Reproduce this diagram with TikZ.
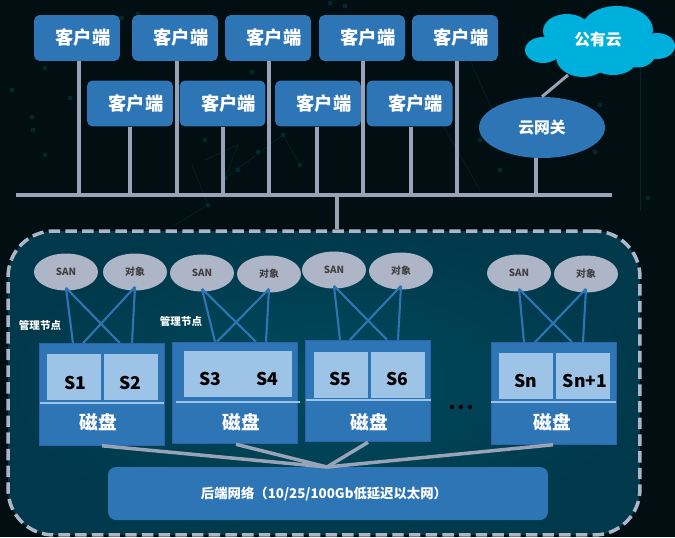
\documentclass[tikz,border=0pt]{standalone}
\usepackage{fontspec}
\setmainfont{Noto Sans CJK SC}
\usetikzlibrary{calc}
\usetikzlibrary{shapes.geometric}
\definecolor{pagedark}{HTML}{010F12}
\definecolor{panelin}{HTML}{004A5E}
\definecolor{panelout}{HTML}{00394B}
\definecolor{boxblue}{HTML}{2E75B6}
\definecolor{boxedge}{HTML}{2F62AC}
\definecolor{paleblue}{HTML}{9DC3E6}
\definecolor{greyline}{HTML}{98A3B7}
\definecolor{ovalgrey}{HTML}{ADB5C7}
\definecolor{cloudblue}{HTML}{00B0DC}
\definecolor{nettrace}{HTML}{05262A}
\tikzset{
  clientbox/.style={fill=boxblue, rounded corners=3.2pt, minimum width=1.72cm, minimum height=0.92cm, inner sep=0pt, text=white, font=\fontsize{10.4}{12}\selectfont\bfseries},
  oval/.style={ellipse, fill=ovalgrey, minimum width=1.28cm, minimum height=0.74cm, inner sep=0pt, text=black!75, font=\fontsize{5.6}{7}\selectfont\bfseries},
  diskbox/.style={fill=boxblue, draw=boxedge, line width=0.6pt, minimum width=2.5cm, minimum height=2.03cm, inner sep=0pt},
  slotbox/.style={fill=paleblue, minimum height=0.92cm, inner sep=0pt},
  slotlabel/.style={inner sep=0pt, text=black, font=\fontsize{10}{12}\selectfont\bfseries},
  disklabel/.style={inner sep=0pt, text=white, font=\fontsize{10.6}{12}\selectfont\bfseries},
  smalllabel/.style={inner sep=0pt, text=white, font=\fontsize{6}{7}\selectfont\bfseries},
  busline/.style={greyline, line width=2pt},
  linkline/.style={boxblue, line width=1.2pt},
}
\newcommand\clientnode[4]{
  \node[clientbox] (#1) at (#2,#3) {\hspace*{2.4mm}客户端};
  \coordinate (#1b) at (#4,195);
  \draw[busline] (#1b |- #1.south) -- (#1b);
}
\newcommand\disknode[4]{
  \node[diskbox] (disk#1) at (#2,#3) {};
  \node[disklabel] (disktext#1) at (#4,422) {磁盘};
}
\begin{document}
\begin{tikzpicture}[x=0.02cm,y=-0.02cm]
\useasboundingbox (0,0) rectangle (675,537);
\fill[pagedark] (0,0) rectangle (675,537);

% faint network behind everything
\foreach \a/\b in {33/130,45/68,70/98,32/117,12/90,45/155,138/14,122/18,208/205,225/178,238/170,258/152,283/135,300/165,205/140,252/72,330/3,345/6,600/105,595/152,648/198,500/170,480/140}
  \fill[nettrace] (\a,\b) circle (2.5);
\foreach \a/\b/\c/\d in {205/160/238/145,238/145/225/178,225/178/283/135,283/135/300/165,192/165/208/205,208/205/175/225,440/120/480/190,470/60/510/150,640/10/640/210}
  \draw[nettrace, line width=0.3pt] (\a,\b) -- (\c,\d);

% bus and clients
\coordinate (busl) at (16,195);
\coordinate (busr) at (612,195);
\clientnode{ca}{77}{38}{79}
\clientnode{cb}{175}{38}{177}
\clientnode{cc}{268}{38}{269}
\clientnode{cd}{362}{38}{363}
\clientnode{ce}{455}{38}{457}
\clientnode{cf}{130}{103.5}{130}
\clientnode{cg}{222.5}{103.5}{223}
\clientnode{ch}{318}{103.5}{317}
\clientnode{ci}{409.5}{103.5}{411}
\draw[busline] (busl) -- (busr);

% cloud
\foreach \a/\b/\c/\d in {617/30/36/24,567/31/24/17,543/50/18/13,657/46/18/13,583/57/27/20,613/61/23/14,638/52/18/15.5,598/45/50/24}
  \fill[cloudblue] (\a,\b) ellipse [x radius=\c, y radius=\d];
\node[inner sep=0pt, text=white, font=\fontsize{9}{11}\selectfont\bfseries] (cloud) at (598,40) {公有云};
\coordinate (cloudb) at (568,75);

\node[ellipse, fill=boxblue, minimum width=2.52cm, minimum height=1.22cm, inner sep=0pt, text=white, font=\fontsize{9}{11}\selectfont\bfseries] (gate) at (542,127.5) {云网关};
\coordinate (gateb) at (536,195);
\draw[busline] (gateb |- gate.south) -- (gateb);
\draw[greyline, line width=1.7pt] (cloudb) -- (gate.north);

% storage panel
\node[rectangle, rounded corners=26pt, minimum width=12.64cm, minimum height=6.08cm, inner color=panelin, outer color=panelout, draw=ovalgrey, line width=2pt, dash pattern=on 6.5pt off 3pt, inner sep=0pt] (panel) at (324,383) {};
\coordinate (panelb) at (337,195);
\draw[busline] (panelb) -- (panelb |- panel.north);

% disks
\disknode{1}{102}{394.5}{98}
\disknode{2}{235}{393}{241}
\disknode{3}{368}{391}{369}
\disknode{4}{554}{393.5}{552}

\node[slotbox, minimum width=1.08cm] (slota) at (74,377) {};
\node[slotbox, minimum width=1.08cm] (slotb) at (131,377) {};
\node[slotbox, minimum width=2.16cm] (slotc) at (238,374) {};
\node[slotbox, minimum width=1.08cm] (slotd) at (341,375) {};
\node[slotbox, minimum width=1.08cm] (slote) at (398,375) {};
\node[slotbox, minimum width=1.08cm] (slotf) at (526,376) {};
\node[slotbox, minimum width=1.08cm] (slotg) at (583,376) {};

\node[slotlabel] (sa) at (75,383) {S1};
\node[slotlabel] (sb) at (130,383) {S2};
\node[slotlabel] (sc) at (210,379) {S3};
\node[slotlabel] (sd) at (267,379) {S4};
\node[slotlabel] (se) at (340,379) {S5};
\node[slotlabel] (sf) at (397,379) {S6};
\node[slotlabel] (sg) at (526,381) {Sn};
\node[slotlabel] (sh) at (585,381) {Sn+1};

\draw[paleblue, line width=0.7pt] (40,403) -- (164,403);
\draw[paleblue, line width=0.7pt] (176,402) -- (300,402);
\draw[paleblue, line width=0.7pt] (306,400) -- (431,400);
\draw[paleblue, line width=0.7pt] (491,402) -- (616,402);

% protocol ovals
\node[oval] (sana) at (66,272) {SAN};
\node[oval] (obja) at (135,272) {对象};
\node[oval] (sanb) at (202,273) {SAN};
\node[oval] (objb) at (269,274) {对象};
\node[oval] (sanc) at (334,270) {SAN};
\node[oval] (objc) at (401,271) {对象};
\node[oval] (sand) at (519,273) {SAN};
\node[oval] (objd) at (586,274) {对象};

\foreach \n/\m/\a/\b/\c/\d in {a/1/34/81/44/93, b/2/43/84/45/94, c/3/35/82/45/93, d/4/33/81/44/92} {
  \draw[linkline] ($(san\n.south)+(0,-3)$) -- ($(disk\m.north west)+(\a,0)$);
  \draw[linkline] ($(san\n.south)+(0,-3)$) -- ($(disk\m.north west)+(\b,0)$);
  \draw[linkline] ($(obj\n.south)+(0,-4)$) -- ($(disk\m.north west)+(\c,0)$);
  \draw[linkline] ($(obj\n.south)+(0,-4)$) -- ($(disk\m.north west)+(\d,0)$);
}

\node[smalllabel] (mgra) at (40,325) {管理节点};
\node[smalllabel] (mgrb) at (181,321) {管理节点};

\fill[black] \foreach \a in {452,461,470} {(\a,407) circle (2.2)};

% back end network
\node[fill=boxblue, rounded corners=4.5pt, minimum width=8.8cm, minimum height=1.06cm, inner sep=0pt, text=white, font=\fontsize{7.6}{9}\selectfont\bfseries] (backnet) at (328,493.5) {};
\node[inner sep=0pt, text=white, font=\fontsize{7.6}{9}\selectfont\bfseries] (backtext) at (324,493.5) {后端网络（10/25/100Gb低延迟以太网）};
\coordinate (hub) at (327,467);
\draw[greyline, line width=2pt] ($(disk1.south west)+(63,0)$) -- (hub);
\draw[greyline, line width=2pt] ($(disk2.south west)+(64,0)$) -- (hub);
\draw[greyline, line width=2pt] ($(disk3.south west)+(63,0)$) -- (hub);
\draw[greyline, line width=2pt] ($(disk4.south west)+(62,0)$) -- (hub);

\end{tikzpicture}
\end{document}
